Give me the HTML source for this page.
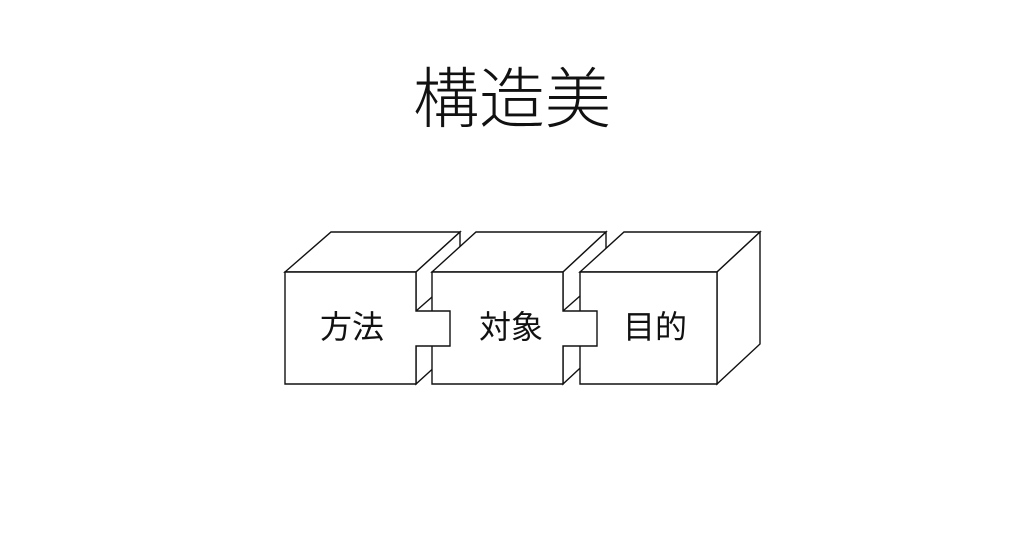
<!DOCTYPE html>
<html><head><meta charset="utf-8"><style>
html,body{margin:0;padding:0;background:#fff;width:1024px;height:559px;overflow:hidden}
text{font-family:"Liberation Sans","Noto Sans CJK JP",sans-serif;fill:#111}
</style></head><body>
<svg width="1024" height="559" viewBox="0 0 1024 559" xmlns="http://www.w3.org/2000/svg">
<rect width="1024" height="559" fill="#fff"/>
<text x="512" y="99" font-size="66" font-weight="300" text-anchor="middle" dominant-baseline="central">構造美</text>
<g fill="#fff" stroke="#111" stroke-width="1.4" stroke-linejoin="miter">
<polygon points="285,272 331,232 460,232 416,272"/>
<polygon points="416,272 460,232 460,344 416,384"/>
<polygon points="432,272 476,232 606,232 563,272"/>
<polygon points="563,272 606,232 606,344 563,384"/>
<polygon points="580,272 624,232 760,232 717,272"/>
<polygon points="717,272 760,232 760,344 717,384"/>
<polygon points="580,272 717,272 717,384 580,384"/>
<polygon points="432,272 563,272 563,311 597,311 597,346 563,346 563,384 432,384"/>
<polygon points="285,272 416,272 416,311 450,311 450,346 416,346 416,384 285,384"/>
<line x1="416" y1="311" x2="432" y2="297"/>
<line x1="563" y1="311" x2="580" y2="296"/>
</g>
<text x="352" y="327" font-size="32" text-anchor="middle" dominant-baseline="central">方法</text>
<text x="511" y="327" font-size="32" text-anchor="middle" dominant-baseline="central">対象</text>
<text x="655" y="327" font-size="32" text-anchor="middle" dominant-baseline="central">目的</text>
</svg>
</body></html>
